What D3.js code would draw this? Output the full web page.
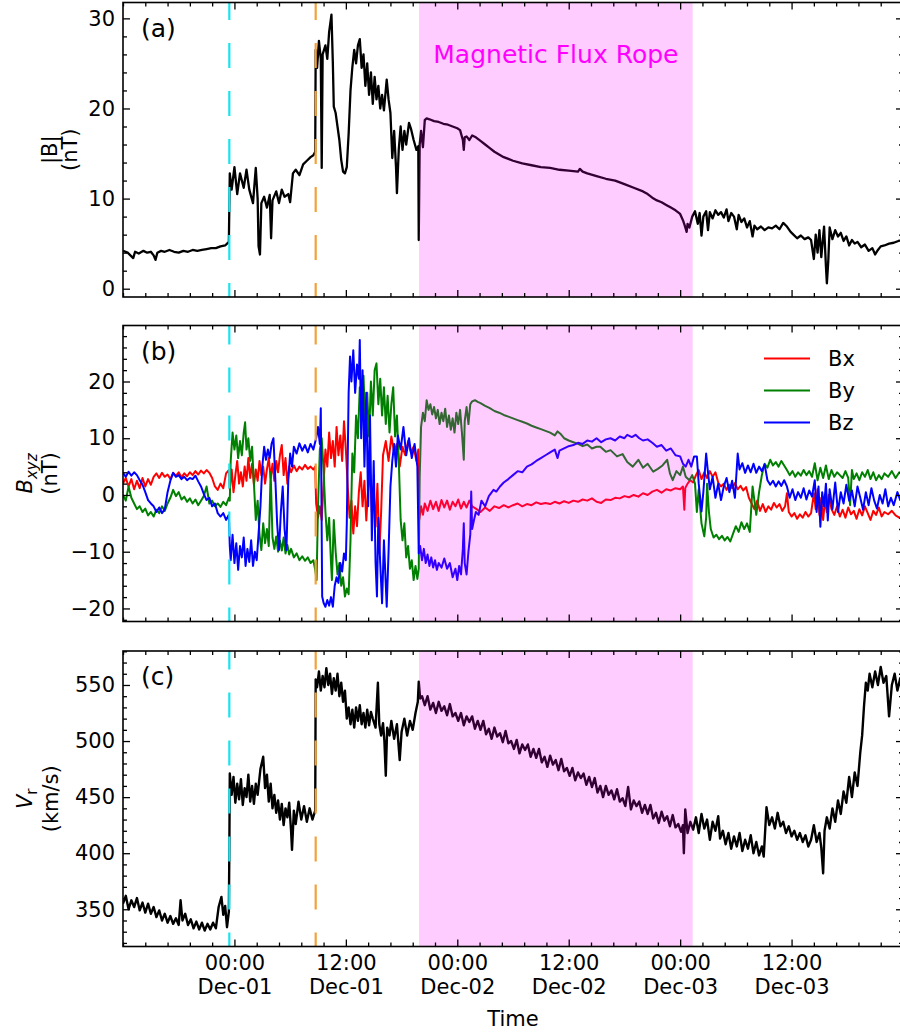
<!DOCTYPE html>
<html>
<head>
<meta charset="utf-8">
<script src="https://cdn.jsdelivr.net/npm/d3@7"></script>
<style>
  body { margin: 0; background: #fff; }
  svg { display: block; }
  text { font-family: "DejaVu Sans", sans-serif; fill: #000; }
</style>
</head>
<body>
<div id="chart"></div>
<script>
// Time axis: hours counted from 2023-11-30 12:00 UT
const startTime = Date.UTC(2023, 10, 30, 12, 0);
const endTime   = Date.UTC(2023, 11, 4, 0, 0);
const shockTime = "2023-11-30T23:27Z";
const sheathTime = "2023-12-01T08:45Z";
const ropeStart = "2023-12-01T19:53Z";
const ropeEnd   = "2023-12-03T01:21Z";
const ropeLabel = "Magnetic Flux Rope";
const tickHours = [12, 24, 36, 48, 60, 72];

// |B| (nT), [hour, value]
const bTotal = [[0,4.2],[0.5,4.0],[1.1,3.4],[1.3,4.1],[1.7,3.9],[2.2,4.2],[2.6,4.0],[3.0,4.1],[3.3,3.7],[3.5,3.2],[3.7,4.0],[4.1,4.2],[4.5,4.1],[5.0,4.3],[5.5,4.1],[6.0,4.0],[6.5,4.2],[7.0,4.1],[7.5,4.3],[8.0,4.2],[8.5,4.3],[9.0,4.4],[9.5,4.5],[10.0,4.5],[10.5,4.7],[11.0,4.8],[11.4,5.2],[11.45,9.0],[11.5,12.8],[11.7,11.0],[12.0,13.5],[12.3,10.5],[12.6,12.8],[13.0,11.2],[13.3,13.2],[13.6,11.0],[14.0,9.5],[14.3,13.4],[14.5,10.0],[14.6,4.7],[14.75,3.8],[14.9,9.5],[15.2,10.2],[15.5,9.0],[15.8,10.4],[15.95,5.6],[16.1,9.8],[16.5,10.8],[16.8,9.5],[17.1,11.0],[17.4,10.2],[17.8,10.5],[18.0,9.6],[18.3,12.8],[18.6,13.2],[19.0,12.6],[19.4,13.8],[19.8,14.2],[20.2,14.6],[20.5,14.8],[20.7,15.2],[20.75,26.5],[20.9,24.5],[21.1,27.5],[21.3,25.5],[21.4,13.4],[21.5,26.0],[21.8,27.0],[22.0,25.5],[22.2,28.5],[22.45,30.4],[22.6,25.0],[22.7,20.2],[22.9,19.5],[23.1,18.0],[23.3,16.5],[23.5,14.3],[23.7,13.0],[23.9,12.8],[24.1,13.5],[24.3,17.2],[24.5,22.0],[24.7,24.6],[24.9,26.5],[25.1,25.0],[25.3,27.0],[25.5,27.7],[25.7,24.5],[25.9,26.0],[26.1,22.5],[26.3,25.0],[26.5,21.5],[26.7,24.0],[26.9,20.5],[27.1,23.5],[27.3,21.0],[27.5,22.5],[27.7,20.0],[27.9,21.5],[28.1,19.8],[28.4,23.2],[28.6,21.0],[28.8,19.5],[29.0,14.5],[29.2,17.5],[29.4,13.5],[29.5,10.6],[29.7,15.5],[29.9,18.0],[30.1,15.4],[30.3,17.5],[30.5,16.0],[30.8,18.4],[31.0,17.8],[31.3,16.5],[31.6,15.4],[31.8,15.8],[31.85,5.4],[31.95,16.0],[32.1,17.5],[32.3,15.7],[32.5,18.7],[32.7,18.9],[33.0,18.8],[33.5,18.6],[34.0,18.5],[34.5,18.3],[35.0,18.2],[35.5,18.0],[36.0,17.8],[36.3,17.6],[36.6,16.5],[36.7,15.4],[36.8,16.8],[37.0,16.9],[37.3,16.5],[37.6,17.0],[38.0,16.8],[38.5,16.4],[39.0,16.0],[39.5,15.6],[40.0,15.2],[40.5,14.9],[41.0,14.6],[41.5,14.4],[42.0,14.2],[43.0,13.9],[44.0,13.7],[45.0,13.5],[46.0,13.4],[47.0,13.2],[48.0,13.1],[49.0,13.0],[49.2,13.3],[49.5,13.0],[50.0,12.8],[51.0,12.5],[52.0,12.2],[53.0,12.0],[54.0,11.6],[55.0,11.2],[56.0,10.8],[56.5,10.5],[57.0,10.1],[57.5,9.8],[58.0,9.6],[58.5,9.3],[59.0,9.0],[59.5,8.7],[60.0,8.3],[60.3,7.6],[60.5,7.0],[60.7,6.3],[60.8,7.2],[61.0,6.8],[61.3,8.0],[61.6,8.6],[61.9,7.2],[62.1,8.4],[62.3,5.9],[62.5,8.0],[62.8,8.6],[63.0,6.5],[63.2,8.5],[63.5,7.8],[63.8,8.7],[64.1,8.2],[64.4,8.5],[64.7,7.9],[65.0,8.8],[65.2,7.5],[65.5,8.4],[65.8,8.0],[66.1,6.6],[66.3,8.2],[66.6,7.4],[66.9,7.8],[67.2,6.8],[67.5,7.5],[67.8,5.8],[68.0,7.0],[68.3,6.6],[68.7,6.9],[69.1,6.5],[69.5,6.8],[69.9,6.7],[70.3,7.0],[70.7,6.6],[71.1,7.3],[71.5,6.9],[71.9,6.3],[72.2,6.0],[72.6,5.6],[73.0,5.9],[73.4,5.5],[73.8,5.7],[74.1,5.4],[74.4,3.3],[74.6,6.0],[74.8,4.0],[75.0,6.5],[75.2,3.5],[75.5,6.9],[75.7,2.5],[75.8,0.6],[75.95,3.0],[76.1,6.8],[76.4,5.5],[76.7,6.5],[77.0,5.8],[77.3,6.2],[77.6,5.3],[77.9,5.8],[78.2,4.8],[78.5,5.4],[78.8,5.0],[79.1,5.2],[79.5,4.6],[79.9,4.9],[80.3,4.2],[80.7,4.5],[81.0,3.8],[81.3,4.3],[81.6,4.7],[82.0,4.8],[82.5,5.0],[83.0,5.1],[83.5,5.3],[84,5.4]];

// Bx (nT)
const bx = [[0,2.0],[0.3,3.0],[0.6,1.5],[0.9,2.8],[1.2,1.0],[1.5,2.5],[1.8,1.2],[2.1,3.0],[2.4,1.5],[2.7,2.8],[3.0,1.8],[3.3,3.2],[3.6,3.8],[3.9,3.0],[4.2,3.9],[4.5,3.2],[4.8,3.6],[5.1,2.8],[5.4,3.9],[5.7,3.4],[6.0,4.0],[6.3,3.1],[6.6,3.8],[6.9,3.3],[7.2,4.0],[7.5,3.5],[7.8,4.2],[8.1,3.6],[8.4,4.3],[8.7,3.8],[9.0,4.4],[9.3,3.9],[9.6,3.0],[9.9,1.5],[10.2,0.9],[10.5,2.0],[10.8,1.2],[11.1,3.8],[11.4,4.4],[11.5,1.0],[11.7,4.5],[11.9,0.5],[12.1,3.5],[12.3,6.0],[12.5,2.0],[12.7,4.0],[12.9,1.5],[13.1,5.0],[13.3,2.5],[13.5,6.5],[13.7,3.0],[13.9,5.5],[14.1,1.8],[14.3,4.5],[14.5,2.5],[14.7,6.0],[14.9,3.5],[15.1,5.0],[15.3,2.0],[15.5,4.5],[15.7,6.5],[15.9,3.0],[16.1,5.5],[16.3,2.5],[16.5,6.0],[16.7,4.0],[16.9,7.0],[17.1,8.8],[17.3,3.5],[17.5,6.5],[17.7,2.0],[17.9,5.0],[18.1,4.0],[18.4,5.2],[18.7,4.2],[19.0,5.0],[19.3,4.5],[19.6,5.3],[19.9,4.6],[20.2,5.0],[20.5,4.5],[20.7,5.0],[20.8,-1.5],[21.0,-4.0],[21.2,-2.0],[21.4,-4.4],[21.6,2.0],[21.8,8.0],[22.0,5.0],[22.2,11.0],[22.4,6.5],[22.6,9.5],[22.8,5.0],[23.0,12.0],[23.2,7.0],[23.4,10.5],[23.6,6.0],[23.8,13.0],[24.0,8.0],[24.2,1.5],[24.4,-4.0],[24.6,-1.0],[24.8,-6.8],[25.0,-2.0],[25.2,-5.5],[25.4,0.5],[25.6,4.0],[25.8,-2.0],[26.0,2.5],[26.2,-4.5],[26.4,1.0],[26.6,4.4],[26.8,-3.0],[27.0,0.5],[27.2,-5.6],[27.4,2.0],[27.6,-10.3],[27.8,-3.0],[28.0,7.0],[28.3,9.5],[28.6,6.0],[28.9,10.3],[29.2,7.5],[29.5,9.0],[29.8,5.0],[30.1,8.5],[30.4,7.0],[30.7,9.5],[31.0,7.5],[31.3,8.5],[31.6,6.0],[31.8,8.0],[31.9,-4.4],[32.1,-2.0],[32.3,-3.5],[32.5,-1.5],[32.8,-2.8],[33.1,-1.0],[33.4,-2.5],[33.7,-1.2],[34.0,-2.8],[34.3,-0.9],[34.6,-2.2],[34.9,-1.0],[35.2,-2.6],[35.5,-1.2],[35.8,-2.0],[36.1,-0.8],[36.4,-2.4],[36.7,-1.2],[37.0,-2.2],[37.3,-1.0],[37.6,-2.0],[38.0,-2.4],[38.5,-3.0],[39.0,-2.2],[39.5,-2.8],[40.0,-2.0],[40.5,-2.3],[41.0,-1.8],[41.5,-2.2],[42.0,-1.8],[42.5,-1.5],[43.0,-2.0],[43.5,-1.6],[44.0,-1.8],[44.5,-1.3],[45.0,-1.6],[45.5,-1.4],[46.0,-1.6],[46.5,-1.2],[47.0,-1.5],[47.5,-1.1],[48.0,-1.4],[48.5,-1.0],[49.0,-1.2],[49.5,-0.8],[50.0,-1.0],[50.5,-0.6],[51.0,-1.2],[51.5,-1.4],[52.0,-0.8],[52.5,-0.9],[53.0,-0.5],[53.5,-0.6],[54.0,-0.2],[54.5,-0.4],[55.0,0.0],[55.5,-0.3],[56.0,0.3],[56.5,0.0],[57.0,0.6],[57.5,0.9],[58.0,0.4],[58.5,1.0],[59.0,0.8],[59.5,1.2],[60.0,1.0],[60.3,1.5],[60.45,-2.6],[60.55,1.2],[60.8,2.0],[61.1,2.6],[61.4,2.2],[61.7,3.5],[62.0,4.4],[62.3,2.8],[62.6,4.0],[62.9,3.0],[63.2,4.2],[63.5,3.2],[63.8,4.0],[64.1,2.2],[64.4,1.5],[64.7,2.0],[65.0,0.9],[65.3,1.8],[65.6,1.2],[65.9,2.1],[66.2,1.0],[66.5,1.6],[66.8,0.8],[67.1,1.4],[67.4,-0.5],[67.7,-1.5],[68.0,-2.5],[68.3,-1.0],[68.6,-2.8],[68.9,-1.6],[69.2,-3.0],[69.5,-2.0],[69.8,-2.6],[70.1,-1.4],[70.4,-2.2],[70.7,-1.6],[71.0,-2.8],[71.3,-2.0],[71.5,0.3],[71.7,-3.0],[72.0,-3.8],[72.3,-3.2],[72.6,-4.2],[72.9,-3.4],[73.2,-4.0],[73.5,-3.0],[73.8,-3.8],[74.1,-3.2],[74.4,0.3],[74.6,-2.5],[74.8,1.0],[75.0,-3.5],[75.2,-0.5],[75.4,-4.4],[75.6,-1.0],[75.8,-3.0],[76.0,0.0],[76.3,-2.5],[76.6,-3.5],[76.9,-2.0],[77.2,-3.8],[77.5,-2.6],[77.8,-4.0],[78.1,-2.2],[78.4,-3.4],[78.7,-2.8],[79.0,-4.2],[79.3,-2.5],[79.6,-3.6],[79.9,-2.0],[80.2,-3.2],[80.5,-4.4],[80.8,-2.8],[81.1,-3.5],[81.4,-2.2],[81.7,-3.8],[82.0,-3.0],[82.4,-3.4],[82.8,-2.8],[83.2,-3.6],[83.6,-4.0],[84,-3.8]];

// By (nT)
const by = [[0,0.0],[0.3,-1.0],[0.6,1.5],[0.9,-0.5],[1.2,-1.5],[1.5,-2.5],[1.8,-2.0],[2.1,-3.0],[2.4,-2.4],[2.7,-3.6],[3.0,-3.0],[3.3,-3.8],[3.6,-2.6],[3.9,-3.2],[4.2,-2.0],[4.5,-2.8],[4.8,-1.5],[5.1,-0.5],[5.4,0.9],[5.7,-0.2],[6.0,0.5],[6.3,-0.8],[6.6,-0.3],[6.9,-1.2],[7.2,-0.6],[7.5,-1.5],[7.8,-0.8],[8.1,-1.8],[8.4,-1.0],[8.7,-0.2],[9.0,1.5],[9.3,-1.5],[9.6,-1.0],[9.9,-2.0],[10.2,-1.5],[10.5,-2.1],[10.8,-1.2],[11.1,-1.8],[11.4,-0.5],[11.5,-1.0],[11.6,6.0],[11.8,11.0],[12.0,8.0],[12.2,10.5],[12.4,6.5],[12.6,9.5],[12.8,7.0],[13.0,11.0],[13.15,12.8],[13.3,8.0],[13.5,10.0],[13.7,6.0],[13.9,8.5],[14.1,2.0],[14.3,-4.4],[14.5,-1.0],[14.7,-7.0],[14.9,-9.7],[15.1,-5.0],[15.3,-8.5],[15.5,-6.0],[15.7,-9.0],[15.9,4.0],[16.1,-7.5],[16.3,-9.5],[16.5,-7.3],[16.7,-10.0],[16.9,-8.0],[17.1,-9.8],[17.3,-7.5],[17.5,-10.3],[17.7,-8.8],[17.9,-10.5],[18.1,-9.5],[18.4,-11.0],[18.7,-10.3],[19.0,-11.5],[19.3,-10.8],[19.6,-11.6],[19.9,-11.0],[20.2,-12.0],[20.5,-11.5],[20.7,-13.2],[20.85,-15.0],[21.0,-2.0],[21.2,8.0],[21.4,10.0],[21.6,4.4],[21.8,-3.0],[22.0,-8.0],[22.2,-4.0],[22.4,-12.0],[22.5,-15.0],[22.7,-4.4],[22.9,-10.0],[23.1,-14.0],[23.3,-12.0],[23.5,-16.0],[23.7,-14.5],[23.9,-17.9],[24.1,-16.5],[24.3,-17.5],[24.5,-8.0],[24.7,7.3],[24.9,4.0],[25.1,14.0],[25.3,10.0],[25.5,19.0],[25.7,15.0],[25.9,21.0],[26.1,12.0],[26.3,18.0],[26.5,10.3],[26.7,20.0],[26.9,14.0],[27.1,22.0],[27.3,23.2],[27.5,16.0],[27.7,20.5],[27.9,14.0],[28.1,19.0],[28.3,12.5],[28.5,17.5],[28.7,11.0],[28.9,16.0],[29.1,19.0],[29.3,10.3],[29.5,14.0],[29.7,6.0],[29.9,-4.4],[30.1,-8.0],[30.3,-5.0],[30.5,-11.0],[30.7,-9.0],[30.9,-13.0],[31.1,-11.5],[31.3,-15.0],[31.5,-12.5],[31.7,-14.8],[31.85,-13.0],[31.95,3.0],[32.1,12.0],[32.3,14.5],[32.5,13.0],[32.7,16.7],[32.9,15.0],[33.1,16.0],[33.3,14.2],[33.5,15.5],[33.7,13.5],[33.9,15.0],[34.1,12.5],[34.3,14.5],[34.5,13.0],[34.7,15.2],[34.9,12.0],[35.1,14.0],[35.3,11.5],[35.5,13.5],[35.7,11.0],[35.9,14.5],[36.1,12.5],[36.3,15.0],[36.5,11.0],[36.7,6.2],[36.8,13.0],[37.0,15.5],[37.2,12.5],[37.4,16.0],[37.6,16.5],[37.9,16.7],[38.2,16.4],[38.5,16.2],[39.0,15.7],[39.5,15.3],[40.0,14.8],[40.5,14.5],[41.0,14.1],[41.5,13.8],[42.0,13.5],[42.5,13.2],[43.0,12.9],[43.5,12.6],[44.0,12.2],[44.5,11.9],[45.0,11.6],[45.5,11.3],[46.0,11.0],[46.5,10.5],[46.8,11.2],[47.1,10.8],[47.5,10.0],[48.0,9.6],[48.5,9.3],[49.0,9.0],[49.5,8.6],[50.0,8.9],[50.5,8.2],[51.0,8.5],[51.4,8.5],[52.0,7.6],[52.5,7.9],[53.2,6.8],[53.8,7.2],[54.3,5.8],[54.9,5.0],[55.5,6.2],[56.0,4.8],[56.5,5.5],[57.1,4.1],[57.6,4.6],[58.1,5.2],[58.6,6.2],[58.9,3.8],[59.2,2.6],[59.6,4.2],[60.0,3.5],[60.3,5.0],[60.6,3.2],[61.0,2.6],[61.3,3.5],[61.6,2.0],[61.8,-3.0],[62.0,1.0],[62.3,-5.0],[62.6,-7.3],[62.8,-4.0],[62.9,2.0],[63.1,-3.0],[63.3,-6.0],[63.6,-7.5],[63.9,-7.0],[64.2,-7.8],[64.5,-7.2],[64.8,-8.0],[65.1,-7.4],[65.4,-8.2],[65.7,-6.8],[66.0,-5.5],[66.3,-6.5],[66.6,-4.8],[66.9,-6.0],[67.2,-5.0],[67.5,-6.5],[67.8,1.5],[68.0,-1.0],[68.2,-3.5],[68.5,0.5],[68.8,3.5],[69.1,5.5],[69.4,4.8],[69.7,6.2],[70.0,5.2],[70.3,5.8],[70.6,5.0],[70.9,6.0],[71.2,5.2],[71.5,4.4],[71.8,3.5],[72.1,4.2],[72.4,3.2],[72.7,4.0],[73.0,3.4],[73.3,4.4],[73.6,3.5],[73.9,4.2],[74.2,3.2],[74.5,5.6],[74.8,2.6],[75.1,4.8],[75.4,3.0],[75.7,5.2],[76.0,2.8],[76.3,4.4],[76.6,3.2],[76.9,4.0],[77.2,3.5],[77.5,3.0],[77.8,4.2],[78.1,3.0],[78.3,-1.8],[78.5,4.4],[78.7,2.8],[79.0,3.8],[79.3,2.6],[79.6,4.0],[79.9,3.2],[80.2,4.4],[80.5,2.8],[80.8,4.0],[81.1,2.6],[81.4,3.5],[81.7,2.8],[82.0,3.8],[82.4,3.2],[82.8,4.2],[83.2,3.0],[83.6,4.0],[84,3.6]];

// Bz (nT)
const bz = [[0,3.9],[0.3,3.2],[0.6,4.1],[0.9,3.4],[1.2,4.0],[1.5,3.5],[1.8,2.6],[2.1,1.8],[2.4,0.5],[2.7,-0.9],[3.0,-1.5],[3.3,-2.0],[3.6,-3.0],[3.9,-2.2],[4.2,-3.2],[4.5,-2.5],[4.8,0.5],[5.1,2.5],[5.4,3.9],[5.7,3.2],[6.0,3.5],[6.3,2.8],[6.6,3.2],[6.9,2.6],[7.2,3.0],[7.5,2.8],[7.8,3.4],[8.1,2.4],[8.4,1.5],[8.7,0.2],[9.0,-0.9],[9.3,-0.5],[9.6,-2.0],[9.9,-1.5],[10.2,-3.2],[10.5,-3.8],[10.8,-3.2],[11.1,-4.4],[11.4,-3.5],[11.5,-9.0],[11.6,-11.5],[11.8,-7.0],[12.0,-12.0],[12.2,-8.5],[12.4,-13.2],[12.6,-9.0],[12.8,-11.0],[13.0,-7.5],[13.2,-12.5],[13.4,-9.5],[13.6,-11.8],[13.8,-8.0],[14.0,-12.5],[14.2,-10.0],[14.4,-11.5],[14.6,-6.8],[14.8,-2.0],[15.0,5.0],[15.2,8.5],[15.4,6.2],[15.6,8.0],[15.8,6.5],[16.0,9.0],[16.2,10.0],[16.4,3.0],[16.6,-5.0],[16.8,-9.7],[17.0,-3.0],[17.2,1.5],[17.4,-6.0],[17.6,-9.7],[17.8,2.6],[18.0,7.3],[18.2,5.0],[18.4,8.5],[18.7,7.3],[19.0,9.1],[19.3,7.8],[19.6,8.8],[19.9,7.5],[20.2,9.0],[20.5,8.0],[20.8,10.0],[21.0,12.0],[21.2,9.0],[21.3,15.3],[21.45,-17.9],[21.6,-19.0],[21.8,-19.7],[22.0,-18.5],[22.2,-19.5],[22.4,-18.0],[22.6,-19.7],[22.8,-16.0],[23.0,-14.5],[23.2,-15.5],[23.4,-12.0],[23.6,-13.5],[23.8,-10.3],[24.0,-11.5],[24.1,-5.0],[24.3,18.0],[24.45,24.4],[24.6,20.0],[24.8,25.5],[25.0,18.0],[25.2,23.0],[25.4,20.5],[25.5,27.3],[25.65,10.0],[25.8,22.0],[26.0,5.0],[26.2,18.0],[26.4,-2.0],[26.6,14.0],[26.8,-8.0],[27.0,6.0],[27.2,-12.0],[27.35,-17.9],[27.5,-4.0],[27.7,-12.0],[27.9,-19.1],[28.1,-8.0],[28.4,-19.7],[28.6,-10.0],[28.8,1.5],[29.0,6.0],[29.2,9.0],[29.4,5.0],[29.6,10.5],[29.9,8.0],[30.2,12.0],[30.5,7.0],[30.8,10.0],[31.1,6.5],[31.4,9.0],[31.7,5.0],[31.85,-10.3],[32.0,-9.0],[32.2,-11.5],[32.4,-9.5],[32.6,-12.0],[32.8,-10.5],[33.0,-12.5],[33.2,-11.0],[33.4,-12.8],[33.6,-11.5],[33.8,-13.2],[34.0,-12.0],[34.3,-12.8],[34.6,-11.2],[34.9,-13.0],[35.2,-12.0],[35.5,-14.5],[35.8,-13.0],[36.0,-15.0],[36.2,-12.5],[36.4,-14.0],[36.6,-9.5],[36.7,-5.0],[36.8,-12.0],[37.0,-14.0],[37.2,-10.0],[37.4,-7.0],[37.5,0.6],[37.6,-6.0],[37.8,-4.4],[38.0,-3.0],[38.3,-3.5],[38.6,-1.0],[39.0,-2.0],[39.4,-0.2],[39.9,0.9],[40.2,0.6],[40.6,1.5],[41.0,2.2],[41.5,2.8],[42.0,3.5],[42.5,4.2],[43.0,4.0],[43.5,5.0],[44.0,5.4],[44.5,6.0],[45.0,6.5],[45.5,7.0],[46.0,7.5],[46.5,8.0],[46.8,6.5],[47.0,7.8],[47.5,8.2],[48.0,8.6],[48.5,8.8],[49.0,9.2],[49.5,9.0],[50.0,9.6],[50.5,9.4],[51.0,10.0],[51.5,9.3],[52.0,9.8],[52.5,10.0],[53.0,9.6],[53.5,10.3],[54.0,10.0],[54.3,10.6],[54.8,10.2],[55.2,10.6],[55.6,10.0],[56.0,9.6],[56.5,9.8],[57.0,9.2],[57.5,8.5],[58.0,8.8],[58.5,7.8],[59.0,8.2],[59.5,7.0],[60.0,6.8],[60.3,5.5],[60.6,5.0],[60.9,6.2],[61.2,5.0],[61.5,6.8],[61.8,6.8],[62.0,2.0],[62.3,-2.9],[62.5,0.5],[62.8,7.3],[63.0,4.0],[63.2,1.0],[63.5,3.2],[63.8,-0.5],[64.1,2.0],[64.4,-0.9],[64.7,1.5],[65.0,3.0],[65.3,0.5],[65.6,2.5],[65.9,-0.5],[66.2,7.3],[66.4,4.5],[66.7,5.6],[67.0,3.9],[67.3,5.2],[67.6,4.0],[67.9,5.5],[68.2,3.9],[68.5,5.0],[68.8,4.2],[69.1,5.4],[69.4,2.6],[69.7,1.8],[70.0,2.5],[70.3,1.5],[70.6,2.4],[70.9,1.6],[71.2,2.6],[71.5,1.5],[71.8,-0.5],[72.1,1.0],[72.4,-0.9],[72.7,0.5],[73.0,-0.5],[73.3,1.2],[73.6,-0.8],[73.9,0.8],[74.2,-0.3],[74.5,2.6],[74.7,-3.0],[74.9,1.5],[75.1,-5.6],[75.3,0.5],[75.5,-2.0],[75.7,2.0],[75.9,-4.5],[76.1,1.0],[76.4,-2.5],[76.7,2.2],[77.0,-3.0],[77.3,0.5],[77.6,-1.5],[77.9,1.8],[78.2,-1.0],[78.5,0.8],[78.8,-2.0],[79.1,1.5],[79.4,-0.5],[79.7,-2.6],[80.0,0.5],[80.3,-1.8],[80.6,1.2],[80.9,-1.0],[81.2,-2.4],[81.5,0.0],[81.8,-1.5],[82.1,1.0],[82.4,-2.0],[82.7,-0.5],[83.0,-1.8],[83.4,0.5],[83.7,-0.9],[84,-0.5]];

// Vr (km/s)
const vr = [[0,355],[0.3,362],[0.6,350],[0.9,358],[1.2,352],[1.5,360],[1.8,349],[2.1,356],[2.4,347],[2.7,355],[3.0,346],[3.3,352],[3.6,343],[3.9,349],[4.2,340],[4.5,346],[4.8,338],[5.1,344],[5.4,337],[5.7,342],[6.0,336],[6.2,358],[6.4,340],[6.7,346],[7.0,336],[7.3,341],[7.6,333],[7.9,339],[8.2,332],[8.5,338],[8.8,331],[9.1,337],[9.4,332],[9.7,338],[10.0,333],[10.3,352],[10.6,361],[10.8,345],[11.0,353],[11.2,334],[11.4,348],[11.45,400],[11.5,471],[11.7,452],[11.9,468],[12.1,445],[12.3,462],[12.5,448],[12.7,466],[12.9,443],[13.1,458],[13.3,450],[13.5,470],[13.7,446],[13.9,460],[14.1,444],[14.3,462],[14.5,452],[14.8,475],[15.1,486],[15.3,458],[15.5,470],[15.7,446],[15.9,462],[16.1,440],[16.3,452],[16.5,436],[16.7,447],[16.9,430],[17.1,444],[17.3,425],[17.5,440],[17.7,432],[17.9,445],[18.1,420],[18.2,403],[18.4,438],[18.6,426],[18.9,446],[19.2,430],[19.5,442],[19.8,428],[20.1,440],[20.4,430],[20.7,438],[20.75,555],[20.9,548],[21.1,562],[21.3,545],[21.5,558],[21.7,548],[21.9,565],[22.1,550],[22.3,560],[22.5,542],[22.7,556],[22.9,545],[23.1,560],[23.3,540],[23.5,552],[23.7,535],[23.9,545],[24.1,520],[24.3,530],[24.5,515],[24.7,528],[24.9,512],[25.1,530],[25.3,518],[25.5,532],[25.7,515],[25.9,525],[26.1,512],[26.3,528],[26.5,514],[26.7,526],[26.9,520],[27.2,512],[27.45,552],[27.6,515],[27.8,505],[28.0,516],[28.15,500],[28.3,469],[28.45,512],[28.7,505],[28.9,518],[29.2,502],[29.5,515],[29.8,483],[30.0,508],[30.3,520],[30.6,505],[30.9,518],[31.2,510],[31.5,525],[31.75,535],[31.85,553],[32.0,538],[32.2,540],[32.5,532],[32.8,540],[33.1,528],[33.4,534],[33.7,525],[34.0,535],[34.3,527],[34.6,531],[34.9,523],[35.2,533],[35.5,522],[35.8,525],[36.1,518],[36.4,525],[36.7,514],[37.0,522],[37.3,517],[37.6,522],[37.9,511],[38.2,518],[38.5,510],[38.8,518],[39.1,506],[39.4,511],[39.7,502],[40.0,512],[40.3,504],[40.6,507],[40.9,499],[41.2,509],[41.5,498],[41.8,500],[42.1,493],[42.4,501],[42.7,489],[43.0,497],[43.3,492],[43.6,497],[43.9,486],[44.2,493],[44.5,485],[44.8,493],[45.1,481],[45.4,486],[45.7,477],[46.0,487],[46.3,479],[46.6,483],[46.9,474],[47.2,484],[47.5,473],[47.8,476],[48.1,469],[48.4,476],[48.7,465],[49.0,472],[49.3,467],[49.6,471],[49.9,461],[50.2,468],[50.5,459],[50.8,467],[51.1,454],[51.4,460],[51.7,450],[52.0,460],[52.3,452],[52.6,456],[52.9,448],[53.2,457],[53.5,446],[53.8,449],[54.1,442],[54.4,459],[54.7,439],[55.0,447],[55.3,442],[55.6,446],[55.9,436],[56.2,443],[56.5,435],[56.8,443],[57.1,431],[57.4,436],[57.7,427],[58.0,437],[58.3,429],[58.6,433],[58.9,424],[59.2,434],[59.5,423],[59.8,426],[60.1,419],[60.3,425],[60.4,400],[60.55,439],[60.8,418],[61.1,428],[61.4,421],[61.7,432],[62.0,418],[62.3,435],[62.6,422],[62.9,430],[63.2,412],[63.5,428],[63.8,420],[64.1,433],[64.3,413],[64.6,420],[64.9,408],[65.2,418],[65.5,404],[65.8,415],[66.1,406],[66.4,418],[66.7,402],[67.0,412],[67.3,404],[67.6,416],[67.9,400],[68.2,410],[68.5,398],[68.8,406],[69.0,397],[69.3,441],[69.6,425],[69.9,432],[70.2,422],[70.5,436],[70.8,424],[71.1,428],[71.4,418],[71.7,424],[72.0,415],[72.3,420],[72.6,412],[72.9,418],[73.2,410],[73.5,416],[73.8,406],[74.1,412],[74.4,425],[74.7,410],[75.0,418],[75.2,405],[75.4,382],[75.55,420],[75.8,432],[76.1,422],[76.4,440],[76.7,428],[77.0,447],[77.3,435],[77.6,455],[77.9,445],[78.2,468],[78.5,450],[78.8,472],[79.1,460],[79.4,490],[79.6,505],[79.8,531],[80.0,552],[80.2,545],[80.4,560],[80.7,548],[81.0,562],[81.3,550],[81.6,566],[81.9,552],[82.2,558],[82.5,522],[82.8,550],[83.1,560],[83.4,545],[83.7,556],[84,540]];

const componentNames = ["Bx", "By", "Bz"];
const componentColors = ["#ff0000", "#008000", "#0000ff"];

const W = 900, H = 1033;
const svg = d3.select("#chart").append("svg").attr("width", W).attr("height", H);

const toDate = h => new Date(startTime + h * 3600e3);
const x = d3.scaleUtc().domain([new Date(startTime), new Date(endTime)]).range([123, 903]);

const panels = [
  { id: "a", top: 2.5, bottom: 297, domain: [-0.92, 31.76], major: [0, 10, 20, 30], minorStep: 2,
    label: ["|B|", "(nT)"], labelX: [57, 77], width: 2.3, series: [{ data: bTotal, color: "#000" }] },
  { id: "b", top: 325.5, bottom: 621.5, domain: [-22.3, 29.87], major: [-20, -10, 0, 10, 20], minorStep: 2,
    label: ["Bxyz", "(nT)"], labelX: [32, 57], width: 2.0,
    series: [bx, by, bz].map((d, i) => ({ data: d, color: componentColors[i] })) },
  { id: "c", top: 651, bottom: 946.5, domain: [316.8, 580.3], major: [350, 400, 450, 500, 550], minorStep: 10,
    label: ["Vr", "(km/s)"], labelX: [32, 58], width: 2.4, series: [{ data: vr, color: "#000" }] }
];

const majorTimes = tickHours.map(toDate);
const minorTimes = d3.range(0, 84.001, 2.4).map(h => toDate(h)).filter(t => !majorTimes.some(m => Math.abs(m - t) < 60e3));
const fmtHM = d3.utcFormat("%H:%M"), fmtMD = d3.utcFormat("%b-%d");

panels.forEach((p, pi) => {
  const y = d3.scaleLinear().domain(p.domain).range([p.bottom, p.top]);
  const g = svg.append("g");
  const clipId = "clip-" + p.id;
  svg.append("clipPath").attr("id", clipId).append("rect")
    .attr("x", 123).attr("y", p.top).attr("width", 780).attr("height", p.bottom - p.top);

  const plot = g.append("g").attr("clip-path", `url(#${clipId})`);
  const line = d3.line().x(d => x(toDate(d[0]))).y(d => y(d[1]));
  p.series.forEach(s => {
    plot.append("path").datum(s.data).attr("d", line)
      .attr("fill", "none").attr("stroke", s.color).attr("stroke-width", p.width)
      .attr("stroke-linejoin", "round");
  });

  // event markers, dashes laid out from the bottom of each panel
  [[shockTime, "#19e3ee"], [sheathTime, "#f2a13a"]].forEach(([t, c]) => {
    const xv = x(new Date(t));
    plot.append("line").attr("x1", xv).attr("x2", xv).attr("y1", p.bottom).attr("y2", p.top)
      .attr("stroke", c).attr("stroke-width", 2.2)
      .attr("stroke-dasharray", "25,23").attr("stroke-dashoffset", 11);
  });

  // flux rope interval
  const x0 = x(new Date(ropeStart)), x1 = x(new Date(ropeEnd));
  plot.append("rect").attr("x", x0).attr("y", p.top).attr("width", x1 - x0).attr("height", p.bottom - p.top)
    .attr("fill", "#ff00ff").attr("fill-opacity", 0.2);

  // axes (ticks pointing inward on all sides)
  const minorY = d3.range(Math.ceil(p.domain[0] / p.minorStep) * p.minorStep, p.domain[1], p.minorStep)
    .filter(v => !p.major.includes(v));
  const addAxis = (axis, tx, ty) => {
    const a = g.append("g").attr("transform", `translate(${tx},${ty})`).call(axis);
    a.select(".domain").remove();
    a.selectAll("line").attr("stroke", "#000").attr("stroke-width", 1.3);
    a.selectAll("text").attr("font-size", 21).attr("font-family", "DejaVu Sans").attr("fill", "#000");
    return a;
  };
  addAxis(d3.axisLeft(y).tickValues(p.major).tickSize(-7).tickPadding(8).tickFormat(d3.format("d")), 123, 0);
  addAxis(d3.axisLeft(y).tickValues(minorY).tickSize(-4).tickFormat(""), 123, 0);
  addAxis(d3.axisRight(y).tickValues(p.major).tickSize(-7).tickFormat(""), 903, 0);
  addAxis(d3.axisRight(y).tickValues(minorY).tickSize(-4).tickFormat(""), 903, 0);
  addAxis(d3.axisTop(x).tickValues(majorTimes).tickSize(-7).tickFormat(""), 0, p.top);
  addAxis(d3.axisTop(x).tickValues(minorTimes).tickSize(-4).tickFormat(""), 0, p.top);
  const isLast = pi === panels.length - 1;
  const xAxisG = addAxis(d3.axisBottom(x).tickValues(majorTimes).tickSize(-7).tickPadding(9)
    .tickFormat(isLast ? fmtHM : ""), 0, p.bottom);
  addAxis(d3.axisBottom(x).tickValues(minorTimes).tickSize(-4).tickFormat(""), 0, p.bottom);
  if (isLast) {
    xAxisG.selectAll(".tick text").each(function (d) {
      const t = d3.select(this);
      t.text(null);
      t.append("tspan").attr("x", 0).attr("dy", "0.71em").text(fmtHM(d));
      t.append("tspan").attr("x", 0).attr("dy", "1.12em").text(fmtMD(d));
    }).attr("dy", null);
  }

  // frame
  g.append("rect").attr("x", 123).attr("y", p.top).attr("width", 780).attr("height", p.bottom - p.top)
    .attr("fill", "none").attr("stroke", "#000").attr("stroke-width", 1.6);

  // panel letter
  g.append("text").attr("x", 141).attr("y", p.top + 34).attr("font-size", 25).text(`(${p.id})`);

  // y label (two lines, rotated)
  const yc = (p.top + p.bottom) / 2;
  const lab = g.append("g").attr("transform", `translate(0,${yc}) rotate(-90)`);
  const t1 = lab.append("text").attr("x", 0).attr("y", p.labelX[0]).attr("text-anchor", "middle").attr("font-size", 21);
  if (pi === 1) {
    t1.append("tspan").attr("font-style", "italic").text("B");
    t1.append("tspan").attr("font-style", "italic").attr("font-size", 15).attr("dy", 5).text("xyz");
  } else if (pi === 2) {
    t1.append("tspan").attr("font-style", "italic").text("V");
    t1.append("tspan").attr("font-size", 15).attr("dy", 5).text("r");
  } else {
    t1.text(p.label[0]);
  }
  lab.append("text").attr("x", 0).attr("y", p.labelX[1]).attr("text-anchor", "middle").attr("font-size", 21).text(p.label[1]);

  if (pi === 0) {
    g.append("text").attr("x", (x0 + x1) / 2).attr("y", 63).attr("text-anchor", "middle")
      .attr("font-family", "Open Sans").attr("font-size", 25).style("fill", "#ff00ff").text(ropeLabel);
  }
  if (pi === 1) {
    const leg = g.append("g");
    componentNames.forEach((n, i) => {
      const ly = 358.5 + i * 32;
      leg.append("line").attr("x1", 764).attr("x2", 810).attr("y1", ly).attr("y2", ly)
        .attr("stroke", componentColors[i]).attr("stroke-width", 2);
      leg.append("text").attr("x", 828).attr("y", ly + 7.5).attr("font-size", 21).text(n);
    });
  }
});

svg.append("text").attr("x", 513).attr("y", 1026).attr("text-anchor", "middle").attr("font-size", 21).text("Time");
</script>
</body>
</html>
